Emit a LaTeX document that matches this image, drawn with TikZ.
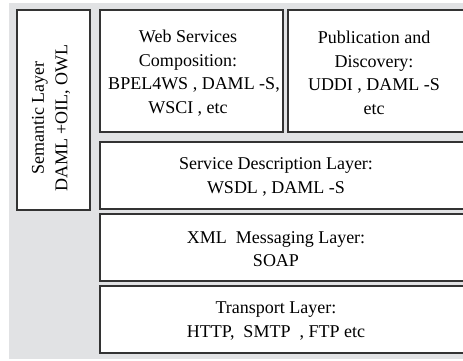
\documentclass[tikz,border=0pt]{standalone}
\usepackage{fontspec}
\setmainfont{Liberation Serif}
\usepackage{xcolor}
\usepackage{tikz}
\usetikzlibrary{positioning}

\definecolor{panelgray}{HTML}{E1E2E4}
\definecolor{boxline}{HTML}{333333}

\tikzset{
  layer/.style={draw=boxline, line width=1.3pt, fill=white},
  layertxt/.style={align=center, inner sep=0pt, font=\fontsize{18}{23.5}\selectfont}
}

\begin{document}
\begin{tikzpicture}[x=1pt, y=-1pt]
  % Frame
  \useasboundingbox (0,0) rectangle (463,360);
  \clip (0,0) rectangle (463,360);
  \fill[panelgray] (9,3) rectangle (470,359);

  % Semantic layer (vertical)
  \draw[layer] (17,10) rectangle (90,210);
  \node[layertxt, rotate=90] (sem) at (51,118) {Semantic Layer\\DAML +OIL, OWL};

  % Composition and discovery
  \draw[layer] (100,10) rectangle (283,132);
  \node[layertxt] (comp) at (188,73) {Web Services\\Composition:\\\hspace*{12pt}BPEL4WS\ , DAML\ -S,\\WSCI , etc};
  \draw[layer] (288,10) rectangle (475,132);
  \node[layertxt] (pub) at (374,73) {Publication and\\Discovery:\\UDDI , DAML -S\\etc};

  % Stack of layers
  \draw[layer] (100,142) rectangle (475,209);
  \node[layertxt] (desc) at (276,177) {Service Description Layer:\\WSDL , DAML -S};
  \draw[layer] (100,214) rectangle (475,281);
  \node[layertxt] (xml) at (276,249) {XML\ \ Messaging Layer:\\SOAP};
  \draw[layer] (100,286) rectangle (475,353);
  \node[layertxt] (trans) at (276,321) {Transport Layer:\\HTTP,\ \ SMTP\ \ , FTP etc};
\end{tikzpicture}
\end{document}
